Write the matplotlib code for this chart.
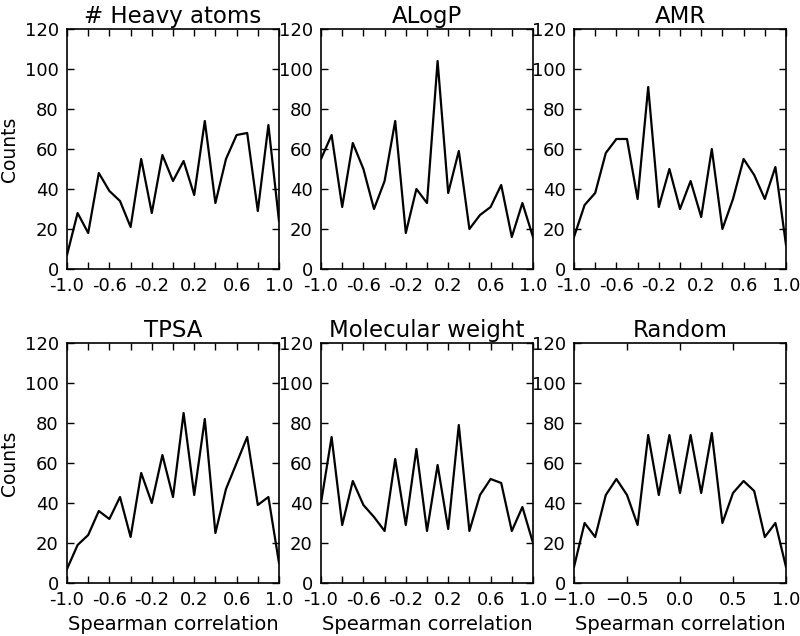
import numpy as np
import matplotlib
matplotlib.use('Agg')
import matplotlib.pyplot as plt

corr = np.round(np.linspace(-1.0, 1.0, 21), 1)

heavy_atoms = [7, 28, 18, 48, 39, 34, 21, 55, 28, 57, 44, 54, 37, 74, 33, 55, 67, 68, 29, 72, 24]
alogp = [55, 67, 31, 63, 50, 30, 44, 74, 18, 40, 33, 104, 38, 59, 20, 27, 31, 42, 16, 33, 16]
amr = [16, 32, 38, 58, 65, 65, 35, 91, 31, 50, 30, 44, 26, 60, 20, 35, 55, 47, 35, 51, 12]
tpsa = [7, 19, 24, 36, 32, 43, 23, 55, 40, 64, 43, 85, 44, 82, 25, 47, 60, 73, 39, 43, 10]
mol_weight = [40, 73, 29, 51, 39, 33, 26, 62, 29, 67, 26, 59, 27, 79, 26, 44, 52, 50, 26, 38, 20]
random_desc = [8, 30, 23, 44, 52, 44, 29, 74, 44, 74, 45, 74, 45, 75, 30, 45, 51, 46, 23, 30, 8]

titles = ['# Heavy atoms', 'ALogP', 'AMR', 'TPSA', 'Molecular weight', 'Random']
series = [heavy_atoms, alogp, amr, tpsa, mol_weight, random_desc]

fig = plt.figure(figsize=(8, 6.36), dpi=100)
lefts = [67, 321, 574]
tops = [29, 343]
w, h = 212, 240

for i, (title, counts) in enumerate(zip(titles, series)):
    row, col = divmod(i, 3)
    ax = fig.add_axes([lefts[col] / 800, 1 - (tops[row] + h) / 636, w / 800, h / 636])
    ax.plot(corr, counts, color='black', linewidth=1.6)
    ax.set_xlim(-1.0, 1.0)
    ax.set_ylim(0, 120)
    ax.set_yticks(range(0, 121, 20))
    if title == 'Random':
        ax.set_xticks([-1.0, -0.5, 0.0, 0.5, 1.0])
        ax.set_xticklabels(['\u22121.0', '\u22120.5', '0.0', '0.5', '1.0'])
    else:
        ticks = np.round(np.arange(-1.0, 1.01, 0.2), 1)
        ax.set_xticks(ticks)
        ax.set_xticklabels([f'{t:.1f}' if j % 2 == 0 else '' for j, t in enumerate(ticks)])
    ax.tick_params(direction='in', top=True, right=True, length=5, width=1,
                   labelsize=13, pad=6)
    for s in ax.spines.values():
        s.set_linewidth(1.2)
    ax.set_title(title, fontsize=16.5, pad=4)
    if col == 0:
        ax.set_ylabel('Counts', fontsize=13.5)
    if row == 1:
        ax.set_xlabel('Spearman correlation', fontsize=14, labelpad=4)

fig.savefig('out.png', dpi=100)
